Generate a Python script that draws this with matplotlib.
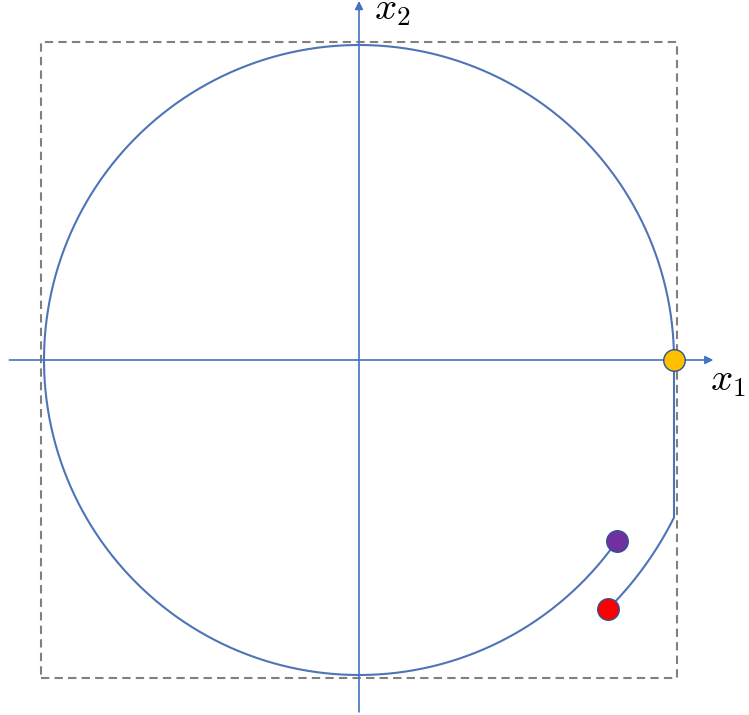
import numpy as np
import matplotlib
matplotlib.use("Agg")
import matplotlib.pyplot as plt

plt.rcParams["mathtext.fontset"] = "cm"

# geometry in data units (unit circle)
radius = 1.0
box_half = 1.01
arc_start_deg = 0.0
arc_end_deg = 325.0          # purple point at -35 deg
step_x = 1.0
step_y_end = -0.5
outer_radius = np.sqrt(1.25)
red_angle_deg = -45.0

point_orange = (1.0, 0.0)
point_purple = (np.cos(np.radians(-35)), np.sin(np.radians(-35)))
point_red = (outer_radius * np.cos(np.radians(red_angle_deg)),
             outer_radius * np.sin(np.radians(red_angle_deg)))

line_blue = "#4F74B6"
axis_blue = "#4472C4"
edge_blue = "#2F528F"


def main():
    fig = plt.figure(figsize=(7.49, 7.15), dpi=100)
    ax = fig.add_axes([0, 0, 1, 1])
    ax.set_xlim(-359 / 315, 390 / 315)
    ax.set_ylim(-355 / 315, 360 / 315)
    ax.set_aspect("equal")
    ax.axis("off")

    # dashed box
    sq = np.array([[-box_half, -box_half], [box_half, -box_half],
                   [box_half, box_half], [-box_half, box_half],
                   [-box_half, -box_half]])
    ax.plot(sq[:, 0], sq[:, 1], color="#808080", lw=1.5,
            dashes=(4, 2.5), zorder=1)

    # axes arrows
    ax.annotate("", xy=(1.125, 0), xytext=(-1.11, 0),
                arrowprops=dict(arrowstyle="-|>", color=axis_blue, lw=1.2,
                                mutation_scale=12, shrinkA=0, shrinkB=0))
    ax.annotate("", xy=(0, 1.14), xytext=(0, -1.117),
                arrowprops=dict(arrowstyle="-|>", color=axis_blue, lw=1.2,
                                mutation_scale=12, shrinkA=0, shrinkB=0))
    ax.text(1.115, -0.097, r"$x_1$", fontsize=28, ha="left", va="baseline")
    ax.text(0.047, 1.08, r"$x_2$", fontsize=28, ha="left", va="baseline")

    # circle arc from orange point around to purple point
    t = np.radians(np.linspace(arc_start_deg, arc_end_deg, 400))
    ax.plot(radius * np.cos(t), radius * np.sin(t), color=line_blue, lw=1.5, zorder=2)

    # step down then outer arc to red point
    a0 = np.degrees(np.arctan2(step_y_end, step_x))
    t2 = np.radians(np.linspace(a0, red_angle_deg, 100))
    px = np.concatenate([[step_x, step_x], outer_radius * np.cos(t2)])
    py = np.concatenate([[0.0, step_y_end], outer_radius * np.sin(t2)])
    ax.plot(px, py, color=line_blue, lw=1.5, zorder=2)

    ax.plot(*point_orange, "o", ms=15.5, mfc="#FFC000", mec=edge_blue, mew=1.0, zorder=5)
    ax.plot(*point_purple, "o", ms=15.5, mfc="#7030A0", mec=edge_blue, mew=1.0, zorder=5)
    ax.plot(*point_red, "o", ms=15.5, mfc="#FF0000", mec=edge_blue, mew=1.0, zorder=5)

    fig.savefig("out.png", dpi=100)
    plt.close(fig)


if __name__ == "__main__":
    main()
